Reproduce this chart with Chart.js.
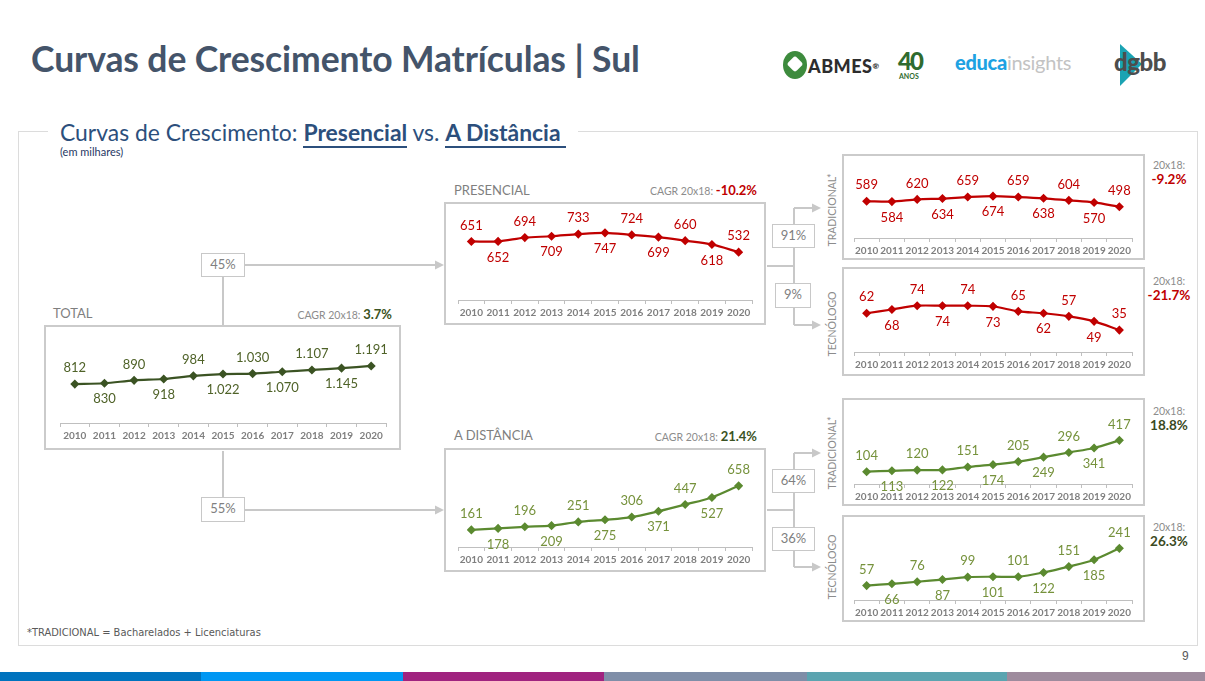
<!DOCTYPE html>
<html>
<head>
<meta charset="utf-8">
<script src="https://cdn.jsdelivr.net/npm/chart.js@4.4.1/dist/chart.umd.min.js"></script>
<style>
body { margin:0; width:1205px; height:681px; position:relative; background:#fff; font-family:Lato, sans-serif; overflow:hidden; }
.abs { position:absolute; white-space:nowrap; }
.box { position:absolute; box-sizing:border-box; border:2px solid #cbcbcb; pointer-events:none; }
.pct { position:absolute; box-sizing:border-box; border:1.5px solid #c8c8c8; background:#fff; color:#808080; font-size:13px; text-align:center; line-height:21px; }
.lbl { color:#7f7f7f; font-size:13px; line-height:13px; }
.cagr { color:#8c8c8c; font-size:10.5px; }
.vert { position:absolute; color:#8c8c8c; font-size:10.5px; line-height:11px; transform:translate(-50%,-50%) rotate(-90deg); white-space:nowrap; }
.r20 { position:absolute; width:60px; text-align:center; line-height:14px; }
.r20 .a { color:#8c8c8c; font-size:10.5px; display:block; }
.r20 .b { font-weight:bold; font-size:13.5px; display:block; }
canvas { position:absolute; }
</style>
</head>
<body>

<!-- slide header -->
<div class="abs" id="title" style="left:31px; top:41px; font-size:35.5px; line-height:36px; font-weight:bold; color:#44546a; letter-spacing:-0.1px;">Curvas de Crescimento Matrículas | Sul</div>

<!-- logos -->
<div class="abs" style="left:783px; top:51px; width:24px; height:28px; border-radius:50%; background:#3d8b3d;"></div>
<div class="abs" style="left:789px; top:58px; width:12px; height:12px; background:#fff; transform:rotate(45deg); border-radius:3px;"></div>
<div class="abs" style="left:808px; top:57px; font-size:18px; line-height:18px; font-weight:900; color:#2d2d2d; letter-spacing:0.5px;">ABMES<span style="font-size:8px; vertical-align:top;">&#174;</span></div>
<div class="abs" style="left:898px; top:49px; font-size:24px; line-height:24px; font-weight:900; color:#2f6b2f; letter-spacing:-2px;">40</div>
<div class="abs" style="left:899px; top:73px; font-size:7px; line-height:7px; font-weight:bold; color:#2f6b2f;">ANOS</div>
<div class="abs" style="left:955px; top:52px; font-size:20px; line-height:20px; color:#1ea2e2; font-weight:900; letter-spacing:-0.3px;">educa<span style="font-weight:400; color:#c3c3c3;">insights</span></div>
<svg class="abs" style="left:1110px; top:42px;" width="80" height="46">
  <polygon points="10,2 32,22 10,44" fill="#1aa3b3"/>
</svg>
<div class="abs" style="left:1114px; top:50px; font-size:24px; line-height:24px; font-weight:900; color:#4d4d4d; letter-spacing:-0.5px;">dgbb</div>

<!-- frame of the chart panel -->
<div class="abs" style="left:18px; top:131px; width:1178px; height:513px; border:1.5px solid #dcdcdc;"></div>
<div class="abs" style="left:48px; top:118px; padding:0 12px; background:#fff; font-size:22.9px; line-height:28px; color:#2c4f7c;">Curvas de Crescimento: <b style="border-bottom:2px solid #2c4f7c;">Presencial</b> vs. <b style="border-bottom:2px solid #2c4f7c;">A Distância&nbsp;</b></div>
<div class="abs" style="left:60px; top:146px; font-size:11px; line-height:11px; color:#1f3864;">(em milhares)</div>

<!-- connectors -->
<svg class="abs" style="left:0; top:0;" width="1205" height="681">
  <g stroke="#c8c8c8" stroke-width="2" fill="none">
    <path d="M223 277V325M223 451V497M245 265H437M245 510H437"/>
    <path d="M767 266H794M794 208V325M794 208H813M794 325H813"/>
    <path d="M767 510H794M794 453V567M794 453H813M794 567H813"/>
  </g>
  <g fill="#c8c8c8">
    <polygon points="444,265 435,260.5 435,269.5"/>
    <polygon points="444,510 435,505.5 435,514.5"/>
    <polygon points="821,208 812,203.5 812,212.5"/>
    <polygon points="821,325 812,320.5 812,329.5"/>
    <polygon points="821,453 812,448.5 812,457.5"/>
    <polygon points="821,567 812,562.5 812,571.5"/>
  </g>
</svg>

<div class="pct" style="left:201px; top:253px; width:44px; height:24px;">45%</div>
<div class="pct" style="left:201px; top:497px; width:44px; height:25px;">55%</div>
<div class="pct" style="left:772px; top:224px; width:43px; height:24px;">91%</div>
<div class="pct" style="left:775px; top:283px; width:36px; height:25px;">9%</div>
<div class="pct" style="left:772px; top:469px; width:43px; height:24px;">64%</div>
<div class="pct" style="left:772px; top:527px; width:43px; height:24px;">36%</div>

<!-- chart headings -->
<div class="abs lbl" style="left:53px; top:307px;">TOTAL</div>
<div class="abs" style="right:813px; top:305px; line-height:16px;"><span class="cagr">CAGR 20x18: </span><b style="font-size:13px; color:#3b5323;">3.7%</b></div>
<div class="abs lbl" style="left:454px; top:184px;">PRESENCIAL</div>
<div class="abs" style="right:448px; top:181px; line-height:16px;"><span class="cagr">CAGR 20x18: </span><b style="font-size:13px; color:#c00000;">-10.2%</b></div>
<div class="abs lbl" style="left:454px; top:429px;">A DISTÂNCIA</div>
<div class="abs" style="right:448px; top:427px; line-height:16px;"><span class="cagr">CAGR 20x18: </span><b style="font-size:13px; color:#3b5323;">21.4%</b></div>

<div class="vert" style="left:832px; top:210px;">TRADICIONAL*</div>
<div class="vert" style="left:832px; top:324px;">TECNÓLOGO</div>
<div class="vert" style="left:832px; top:453px;">TRADICIONAL*</div>
<div class="vert" style="left:832px; top:567px;">TECNÓLOGO</div>

<div class="r20" style="left:1139px; top:158px;"><span class="a">20x18:</span><span class="b" style="color:#c00000;">-9.2%</span></div>
<div class="r20" style="left:1139px; top:274px;"><span class="a">20x18:</span><span class="b" style="color:#c00000;">-21.7%</span></div>
<div class="r20" style="left:1139px; top:404px;"><span class="a">20x18:</span><span class="b" style="color:#3b4a22;">18.8%</span></div>
<div class="r20" style="left:1139px; top:520px;"><span class="a">20x18:</span><span class="b" style="color:#3b4a22;">26.3%</span></div>

<!-- chart canvases -->
<canvas id="cTotal"></canvas>
<canvas id="cPres"></canvas>
<canvas id="cDist"></canvas>
<canvas id="cTradP"></canvas>
<canvas id="cTecP"></canvas>
<canvas id="cTradD"></canvas>
<canvas id="cTecD"></canvas>

<div class="box" style="left:44px; top:325px; width:357px; height:125px;"></div>
<div class="box" style="left:444px; top:202px; width:322px; height:123px;"></div>
<div class="box" style="left:444px; top:448px; width:322px; height:124px;"></div>
<div class="box" style="left:842px; top:154px; width:303px; height:106px;"></div>
<div class="box" style="left:842px; top:267px; width:303px; height:109px;"></div>
<div class="box" style="left:842px; top:398px; width:303px; height:108px;"></div>
<div class="box" style="left:842px; top:515px; width:303px; height:107px;"></div>

<div class="abs" style="left:27px; top:627px; font-family:'Liberation Sans Narrow', 'DejaVu Sans Condensed', sans-serif; font-size:11px; line-height:12px; color:#595959;">*TRADICIONAL = Bacharelados + Licenciaturas</div>
<div class="abs" style="left:1182px; top:650px; font-family:'Liberation Sans Narrow', sans-serif; font-size:12px; line-height:13px; color:#595959;">9</div>

<!-- bottom colour band -->
<div class="abs" style="left:0; top:672px; width:201px; height:9px; background:#0073be;"></div>
<div class="abs" style="left:201px; top:672px; width:202px; height:9px; background:#0097f3;"></div>
<div class="abs" style="left:403px; top:672px; width:201px; height:9px; background:#a0237f;"></div>
<div class="abs" style="left:604px; top:672px; width:203px; height:9px; background:#7f8ea8;"></div>
<div class="abs" style="left:807px; top:672px; width:200px; height:9px; background:#5ba4b0;"></div>
<div class="abs" style="left:1007px; top:672px; width:198px; height:9px; background:#9e8b9d;"></div>

<script>
// years on every x axis
const years = ['2010', '2011', '2012', '2013', '2014', '2015', '2016', '2017', '2018', '2019', '2020'];

// enrolments, thousands
const totalValues = [812, 830, 890, 918, 984, 1022, 1030, 1070, 1107, 1145, 1191];
const presencialValues = [651, 652, 694, 709, 733, 747, 724, 699, 660, 618, 532];
const distanciaValues = [161, 178, 196, 209, 251, 275, 306, 371, 447, 527, 658];
const tradPresencialValues = [589, 584, 620, 634, 659, 674, 659, 638, 604, 570, 498];
const tecPresencialValues = [62, 68, 74, 74, 74, 73, 65, 62, 57, 49, 35];
const tradDistanciaValues = [104, 113, 120, 122, 151, 174, 205, 249, 296, 341, 417];
const tecDistanciaValues = [57, 66, 76, 87, 99, 101, 101, 122, 151, 185, 241];

const RED = '#c00000';
const AXIS_H = 22;

// number format like the slide: 1.022
function fmt(v) {
  return String(v).replace(/\B(?=(\d{3})+(?!\d))/g, '.');
}

// value labels, alternating above / below the points
const valueLabels = {
  id: 'valueLabels',
  afterDatasetsDraw(chart) {
    const ds = chart.data.datasets[0];
    const meta = chart.getDatasetMeta(0);
    const ctx = chart.ctx;
    ctx.save();
    ctx.font = '13px Lato';
    ctx.fillStyle = ds.labelColor;
    ctx.textAlign = 'center';
    ctx.textBaseline = 'middle';
    meta.data.forEach((p, i) => {
      const dy = i % 2 === 0 ? -16 : 16;
      ctx.fillText(fmt(ds.data[i]), p.x, p.y + dy);
    });
    ctx.restore();
  }
};

// g = box on the page, axis = y of the x axis line, left/right = first and last tick
function makeChart(id, g, values, lineColor, labelColor, yMin, yMax) {
  const cv = document.getElementById(id);
  cv.width = g.w;
  cv.height = g.h;
  cv.style.left = g.x + 'px';
  cv.style.top = g.y + 'px';
  return new Chart(cv, {
    type: 'line',
    data: {
      labels: years,
      datasets: [{
        data: values,
        borderColor: lineColor,
        backgroundColor: lineColor,
        borderWidth: 2.2,
        pointStyle: 'rectRot',
        pointRadius: 3,
        tension: 0.3,
        labelColor: labelColor
      }]
    },
    options: {
      responsive: false,
      animation: false,
      layout: {
        padding: {
          left: g.left - g.x,
          right: g.x + g.w - g.right,
          top: 2,
          bottom: g.y + g.h - g.axis - AXIS_H
        }
      },
      plugins: { legend: { display: false }, tooltip: { enabled: false } },
      scales: {
        x: {
          offset: true,
          grid: { offset: true, drawOnChartArea: false, tickLength: 4, color: '#bfbfbf' },
          border: { color: '#bfbfbf', width: 1 },
          ticks: { font: { family: 'Lato', size: 10, weight: 'bold' }, color: '#7f7f7f', padding: 3, maxRotation: 0, autoSkip: false },
          afterFit(s) { s.height = AXIS_H; }
        },
        y: { display: false, min: yMin, max: yMax }
      }
    },
    plugins: [valueLabels]
  });
}

makeChart('cTotal', { x: 44, y: 325, w: 357, h: 125, axis: 423, left: 60, right: 386 },
  totalValues, '#3b5323', '#4f6228', 0, 1916);
makeChart('cPres', { x: 444, y: 202, w: 322, h: 123, axis: 300, left: 458, right: 752 },
  presencialValues, RED, RED, 0, 1021);
makeChart('cDist', { x: 444, y: 448, w: 322, h: 124, axis: 547, left: 458, right: 752 },
  distanciaValues, '#5b8a30', '#76923c', -32, 1015);
makeChart('cTradP', { x: 842, y: 154, w: 303, h: 106, axis: 238, left: 854, right: 1132 },
  tradPresencialValues, RED, RED, -16, 1266);
makeChart('cTecP', { x: 842, y: 267, w: 303, h: 109, axis: 352, left: 854, right: 1132 },
  tecPresencialValues, RED, RED, 0, 126);
makeChart('cTradD', { x: 842, y: 398, w: 303, h: 108, axis: 484, left: 854, right: 1132 },
  tradDistanciaValues, '#5b8a30', '#76923c', -19, 778);
makeChart('cTecD', { x: 842, y: 515, w: 303, h: 107, axis: 600, left: 854, right: 1132 },
  tecDistanciaValues, '#5b8a30', '#76923c', -14, 375);
</script>
</body>
</html>
